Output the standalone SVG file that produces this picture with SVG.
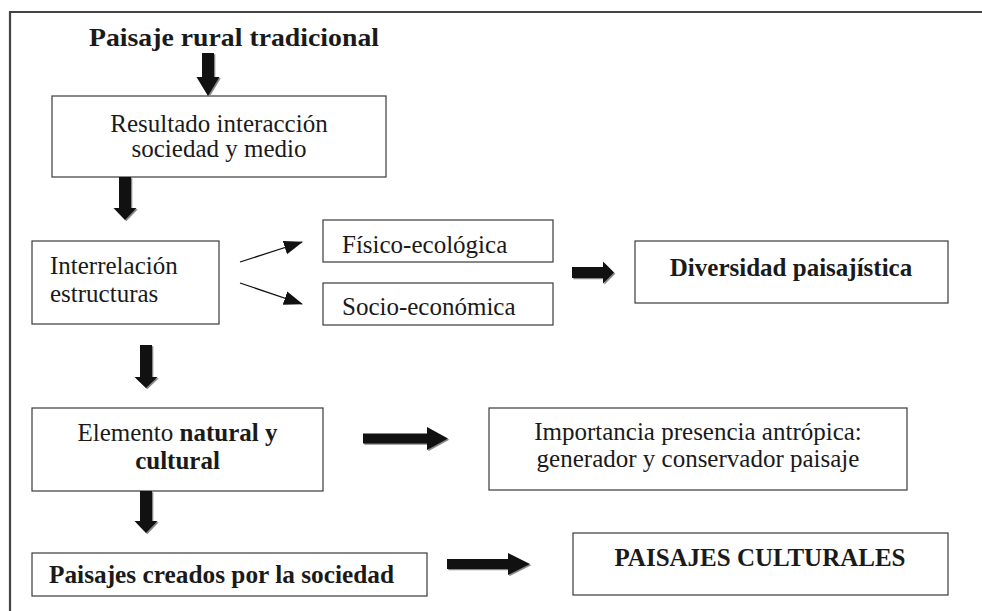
<svg xmlns="http://www.w3.org/2000/svg" width="982" height="611" viewBox="0 0 982 611">
<style>
.box{fill:#fff;stroke:#3a3a3a;stroke-width:1.2}
text{font-family:'Liberation Serif','DejaVu Serif',serif;font-size:25px;fill:#1a1a1a}
.b{font-weight:bold}
.blk{fill:#111}
.sh{fill:#888}
.thin{stroke:#111;stroke-width:1.3;fill:none}
</style>
<defs>
<marker id="ah" markerWidth="20" markerHeight="16" refX="18" refY="7" orient="auto" markerUnits="userSpaceOnUse" viewBox="0 0 20 14">
<path d="M0,0 L19,7 L0,14 Z" fill="#111"/>
</marker>
</defs>
<rect width="982" height="611" fill="#fff"/>
<path d="M10,611 V12 H982" fill="none" stroke="#444" stroke-width="2.2"/>

<g id="title"><text class="b" x="89" y="46" font-size="28" textLength="290" lengthAdjust="spacingAndGlyphs">Paisaje rural tradicional</text></g>

<g id="resultado">
<rect class="box" x="52" y="96" width="334" height="81"/>
<text x="219" y="132" text-anchor="middle">Resultado interacción</text>
<text x="219" y="157" text-anchor="middle">sociedad y medio</text>
</g>

<g id="interrelacion">
<rect class="box" x="32" y="241" width="187" height="83"/>
<text x="50" y="274">Interrelación</text>
<text x="50" y="302">estructuras</text>
</g>

<g id="fisico">
<rect class="box" x="323" y="220" width="230" height="42"/>
<text x="342" y="253">Físico-ecológica</text>
</g>

<g id="socio">
<rect class="box" x="323" y="283" width="230" height="42"/>
<text x="342" y="315">Socio-económica</text>
</g>

<g id="diversidad">
<rect class="box" x="635" y="241" width="313" height="62"/>
<text class="b" x="791" y="276" font-size="27.5" text-anchor="middle">Diversidad paisajística</text>
</g>

<g id="elemento">
<rect class="box" x="32" y="408" width="291" height="83"/>
<text x="177.5" y="441" text-anchor="middle">Elemento <tspan class="b">natural y</tspan></text>
<text class="b" x="177.5" y="469" text-anchor="middle">cultural</text>
</g>

<g id="importancia">
<rect class="box" x="489" y="408" width="418" height="82"/>
<text x="698" y="440" text-anchor="middle">Importancia presencia antrópica:</text>
<text x="698" y="467" text-anchor="middle">generador y conservador paisaje</text>
</g>

<g id="creados">
<rect class="box" x="32" y="553" width="395" height="43"/>
<text class="b" x="49" y="583" textLength="345" lengthAdjust="spacingAndGlyphs">Paisajes creados por la sociedad</text>
</g>

<g id="culturales">
<rect class="box" x="573" y="533" width="375" height="62"/>
<text class="b" x="760" y="566" font-size="27.6" text-anchor="middle">PAISAJES CULTURALES</text>
</g>

<g id="connectors">
<g transform="translate(1.3,1.3)" class="sh">
<path d="M202,53 H214 V77 H219.5 L208,96 L196.5,77 H202 Z"/>
<path d="M119,177 H131 V208 H136.5 L125,220 L113.5,208 H119 Z"/>
<path d="M140,345 H152 V377 H157.5 L146,388 L134.5,377 H140 Z"/>
<path d="M140,491 H152 V521 H157.5 L146,533 L134.5,521 H140 Z"/>
<path d="M572,267 H603 V261.5 L614,272.5 L603,283.5 V278 H572 Z"/>
<path d="M363,433.5 H427 V427 L448,438.5 L427,450 V443.5 H363 Z"/>
<path d="M447,559 H508 V553 L530,564 L508,575 V569 H447 Z"/>
</g>
<g class="blk">
<path d="M202,53 H214 V77 H219.5 L208,96 L196.5,77 H202 Z"/>
<path d="M119,177 H131 V208 H136.5 L125,220 L113.5,208 H119 Z"/>
<path d="M140,345 H152 V377 H157.5 L146,388 L134.5,377 H140 Z"/>
<path d="M140,491 H152 V521 H157.5 L146,533 L134.5,521 H140 Z"/>
<path d="M572,267 H603 V261.5 L614,272.5 L603,283.5 V278 H572 Z"/>
<path d="M363,433.5 H427 V427 L448,438.5 L427,450 V443.5 H363 Z"/>
<path d="M447,559 H508 V553 L530,564 L508,575 V569 H447 Z"/>
</g>
<line class="thin" x1="240" y1="262" x2="302" y2="242" marker-end="url(#ah)"/>
<line class="thin" x1="240" y1="283" x2="302" y2="304" marker-end="url(#ah)"/>
</g>
</svg>
